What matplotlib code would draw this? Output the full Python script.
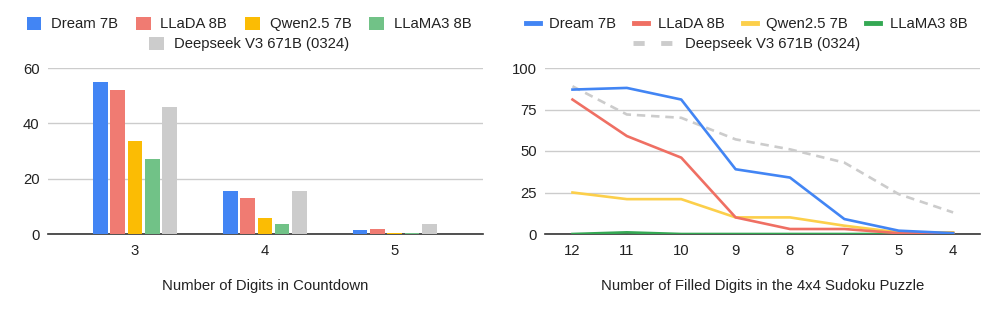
import matplotlib.pyplot as plt
from matplotlib.patches import Patch
from matplotlib.lines import Line2D
import numpy as np

plt.rcParams['font.family'] = ['Liberation Sans', 'DejaVu Sans']

# data
models = ["Dream 7B", "LLaDA 8B", "Qwen2.5 7B", "LLaMA3 8B", "Deepseek V3 671B (0324)"]

countdown_digits = ["3", "4", "5"]
countdown_scores = {
    "Dream 7B": [55, 15.5, 1.3],
    "LLaDA 8B": [52, 13, 1.8],
    "Qwen2.5 7B": [33.5, 5.8, 0.3],
    "LLaMA3 8B": [27, 3.6, 0.3],
    "Deepseek V3 671B (0324)": [46, 15.5, 3.5],
}

sudoku_filled = ["12", "11", "10", "9", "8", "7", "5", "4"]
sudoku_scores = {
    "Dream 7B": [87, 88, 81, 39, 34, 9, 2, 0.5],
    "LLaDA 8B": [81, 59, 46, 10, 3, 3, 0.5, 0.5],
    "Qwen2.5 7B": [25, 21, 21, 10, 10, 5, 1, 1],
    "LLaMA3 8B": [0, 1, 0, 0, 0, 0, 0, 0],
    "Deepseek V3 671B (0324)": [89, 72, 70, 57, 51, 43, 24, 13],
}

bar_colors = ["#4285F4", "#F07B72", "#FBBC04", "#71C287", "#CCCCCC"]
line_colors = ["#4285F4", "#EF6F63", "#FCCF4A", "#34A853", "#CCCCCC"]
TEXT = "#222222"
FS = 10.7

fig = plt.figure(figsize=(9.97, 3.09), dpi=100)
ax1 = fig.add_axes([48 / 997, 75 / 309, 435 / 997, 166 / 309])
ax2 = fig.add_axes([545.3 / 997, 75 / 309, 435 / 997, 166 / 309])


def style_axes(ax, ymax, step):
    ax.set_ylim(0, ymax)
    ax.set_yticks(np.arange(0, ymax + 1, step))
    ax.grid(axis="y", color="#CCCCCC", lw=1)
    ax.set_axisbelow(True)
    for s in ["top", "right", "left"]:
        ax.spines[s].set_visible(False)
    ax.spines["bottom"].set_color("#333333")
    ax.spines["bottom"].set_linewidth(1.2)
    ax.tick_params(length=0, labelsize=FS, labelcolor=TEXT)
    ax.tick_params(axis="y", pad=6)
    ax.tick_params(axis="x", pad=7.5)


# bar chart
x = np.arange(len(countdown_digits))
step, width = 0.133, 0.113
for k, m in enumerate(models):
    ax1.bar(x + (k - 2) * step, countdown_scores[m], width, color=bar_colors[k], zorder=3)
ax1.set_xticks(x)
ax1.set_xticklabels(countdown_digits)
ax1.set_xlim(-0.67, 2.68)
style_axes(ax1, 60, 20)
ax1.set_xlabel("Number of Digits in Countdown", fontsize=FS, color=TEXT, labelpad=15)

# line chart
xs = np.arange(len(sudoku_filled))
for k, m in enumerate(models):
    if k == 4:
        ax2.plot(xs, sudoku_scores[m], color=line_colors[k], lw=1.9, dashes=(3.2, 2.2), zorder=2)
    else:
        ax2.plot(xs, sudoku_scores[m], color=line_colors[k], lw=1.9, zorder=3 + (4 - k))
ax2.set_xticks(xs)
ax2.set_xticklabels(sudoku_filled)
ax2.set_xlim(-0.5, 7.5)
style_axes(ax2, 100, 25)
ax2.set_xlabel("Number of Filled Digits in the 4x4 Sudoku Puzzle", fontsize=FS, color=TEXT, labelpad=15)

# legends: 4 items on first row, the fifth centered below
leg_kw = dict(frameon=False, fontsize=FS, labelcolor=TEXT, loc="center",
              handletextpad=0.65, columnspacing=1.2, borderpad=0)
h_bar = [Patch(facecolor=c, edgecolor="none") for c in bar_colors]
fig.legend(h_bar[:4], models[:4], ncol=4, bbox_to_anchor=(0.2497, 0.9225),
           handlelength=1.0, handleheight=1.0, **leg_kw)
fig.legend(h_bar[4:], models[4:], ncol=1, bbox_to_anchor=(0.2497, 0.858),
           handlelength=1.0, handleheight=1.0, **leg_kw)

h_line = [Line2D([], [], color=c, lw=3.5) for c in line_colors[:4]]
fig.legend(h_line, models[:4], ncol=4, bbox_to_anchor=(0.7487, 0.9225),
           handlelength=0.95, **leg_kw)
h_ds = Line2D([], [], color=line_colors[4], lw=3.5, dashes=(2.3, 3.4))
fig.legend([h_ds], models[4:], ncol=1, bbox_to_anchor=(0.7487, 0.858),
           handlelength=2.9, **leg_kw)

fig.savefig("out.png", dpi=100)
